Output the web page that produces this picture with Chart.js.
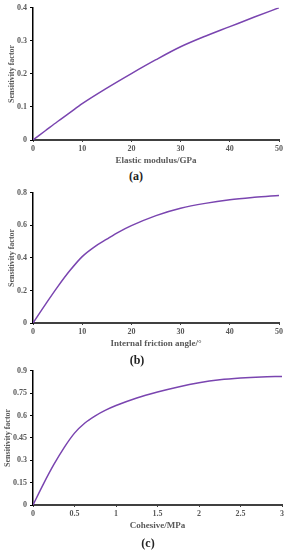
<!DOCTYPE html>
<html>
<head>
<meta charset="utf-8">
<script src="https://cdn.jsdelivr.net/npm/chart.js@4"></script>
<style>
  body { margin: 0; background: #fff; width: 287px; height: 550px; position: relative; overflow: hidden; }
  canvas { position: absolute; left: 0; }
  .lbl { position: absolute; font: bold 12px "Liberation Serif", serif; color: #222; transform: translate(-50%, -50%); }
</style>
</head>
<body>
<canvas id="chartA"></canvas>
<canvas id="chartB"></canvas>
<canvas id="chartC"></canvas>
<div class="lbl" style="left:136px; top:176px;">(a)</div>
<div class="lbl" style="left:137px; top:360px;">(b)</div>
<div class="lbl" style="left:148px; top:543px;">(c)</div>
<script>
// (a) elastic modulus
const modulusX = [0, 2.5, 5, 7.5, 10, 15, 20, 25, 30, 35, 40, 45, 50];
const modulusY = [0, 0.028, 0.056, 0.083, 0.11, 0.157, 0.201, 0.243, 0.282, 0.314, 0.343, 0.372, 0.4];
const modulusXTicks = [0, 10, 20, 30, 40, 50];
const modulusYTicks = [0, 0.1, 0.2, 0.3, 0.4];

// (b) internal friction angle
const frictionX = [0, 2.5, 5, 7.5, 10, 12.5, 15, 17.5, 20, 25, 30, 35, 40, 45, 50];
const frictionY = [0, 0.113, 0.222, 0.322, 0.408, 0.468, 0.515, 0.56, 0.598, 0.66, 0.705, 0.735, 0.757, 0.772, 0.784];
const frictionXTicks = [0, 10, 20, 30, 40, 50];
const frictionYTicks = [0, 0.2, 0.4, 0.6, 0.8];

// (c) cohesive
const cohesiveX = [0, 0.125, 0.25, 0.375, 0.5, 0.625, 0.75, 0.875, 1, 1.25, 1.5, 1.75, 2, 2.25, 2.5, 2.75, 3];
const cohesiveY = [0, 0.14, 0.27, 0.385, 0.482, 0.55, 0.598, 0.636, 0.667, 0.718, 0.758, 0.792, 0.82, 0.84, 0.852, 0.859, 0.862];
const cohesiveXTicks = [0, 0.5, 1, 1.5, 2, 2.5, 3];
const cohesiveYTicks = [0, 0.15, 0.3, 0.45, 0.6, 0.75, 0.9];

const lineColor = "#7a45b0";
const textColor = "#595959";

function makeChart(id, top, height, xs, ys, xTicks, yTicks, xTitle, padLeft, padRight) {
    const cv = document.getElementById(id);
    cv.style.top = top + "px";
    cv.width = 287;
    cv.height = height;
    cv.style.width = "287px";
    cv.style.height = height + "px";
    const pts = xs.map((x, i) => ({ x: x, y: ys[i] }));
    return new Chart(cv, {
        type: "line",
        data: {
            datasets: [{
                data: pts,
                borderColor: lineColor,
                borderWidth: 1.5,
                pointRadius: 0,
                cubicInterpolationMode: "monotone",
                fill: false
            }]
        },
        options: {
            responsive: false,
            animation: false,
            layout: { padding: { top: 7, right: padRight, left: padLeft, bottom: 0 } },
            plugins: { legend: { display: false }, tooltip: { enabled: false } },
            scales: {
                x: {
                    type: "linear",
                    min: xTicks[0],
                    max: xTicks[xTicks.length - 1],
                    afterBuildTicks: s => { s.ticks = xTicks.map(v => ({ value: v })); },
                    afterFit: s => { s.height = 28; },
                    border: { display: true, color: "#404040", width: 2 },
                    grid: { drawOnChartArea: false, drawTicks: true, tickLength: 2, color: "#404040" },
                    ticks: {
                        color: textColor,
                        padding: 2,
                        maxRotation: 0,
                        font: { family: "Liberation Serif", size: 8, weight: "bold" },
                        callback: v => String(v)
                    },
                    title: {
                        display: true,
                        text: xTitle,
                        color: textColor,
                        padding: { top: 0, bottom: 2 },
                        font: { family: "Liberation Serif", size: 9, weight: "bold" }
                    }
                },
                y: {
                    min: yTicks[0],
                    max: yTicks[yTicks.length - 1],
                    afterBuildTicks: s => { s.ticks = yTicks.map(v => ({ value: v })); },
                    afterFit: s => { s.width = 33 - padLeft; },
                    border: { display: true, color: "#000", width: 1.5 },
                    grid: { drawOnChartArea: false, drawTicks: true, tickLength: 3, color: "#000" },
                    ticks: {
                        color: textColor,
                        padding: 3,
                        font: { family: "Liberation Serif", size: 8, weight: "bold" },
                        callback: v => String(v)
                    },
                    title: {
                        display: true,
                        text: "Sensitivity factor",
                        color: textColor,
                        padding: 0,
                        font: { family: "Liberation Serif", size: 8, weight: "bold" }
                    }
                }
            }
        }
    });
}

makeChart("chartA", 0, 168, modulusX, modulusY, modulusXTicks, modulusYTicks, "Elastic modulus/GPa", 7, 8);
makeChart("chartB", 185, 166, frictionX, frictionY, frictionXTicks, frictionYTicks, "Internal friction angle/\u00b0", 7, 8);
makeChart("chartC", 363, 170, cohesiveX, cohesiveY, cohesiveXTicks, cohesiveYTicks, "Cohesive/MPa", 3, 5);
</script>
</body>
</html>
